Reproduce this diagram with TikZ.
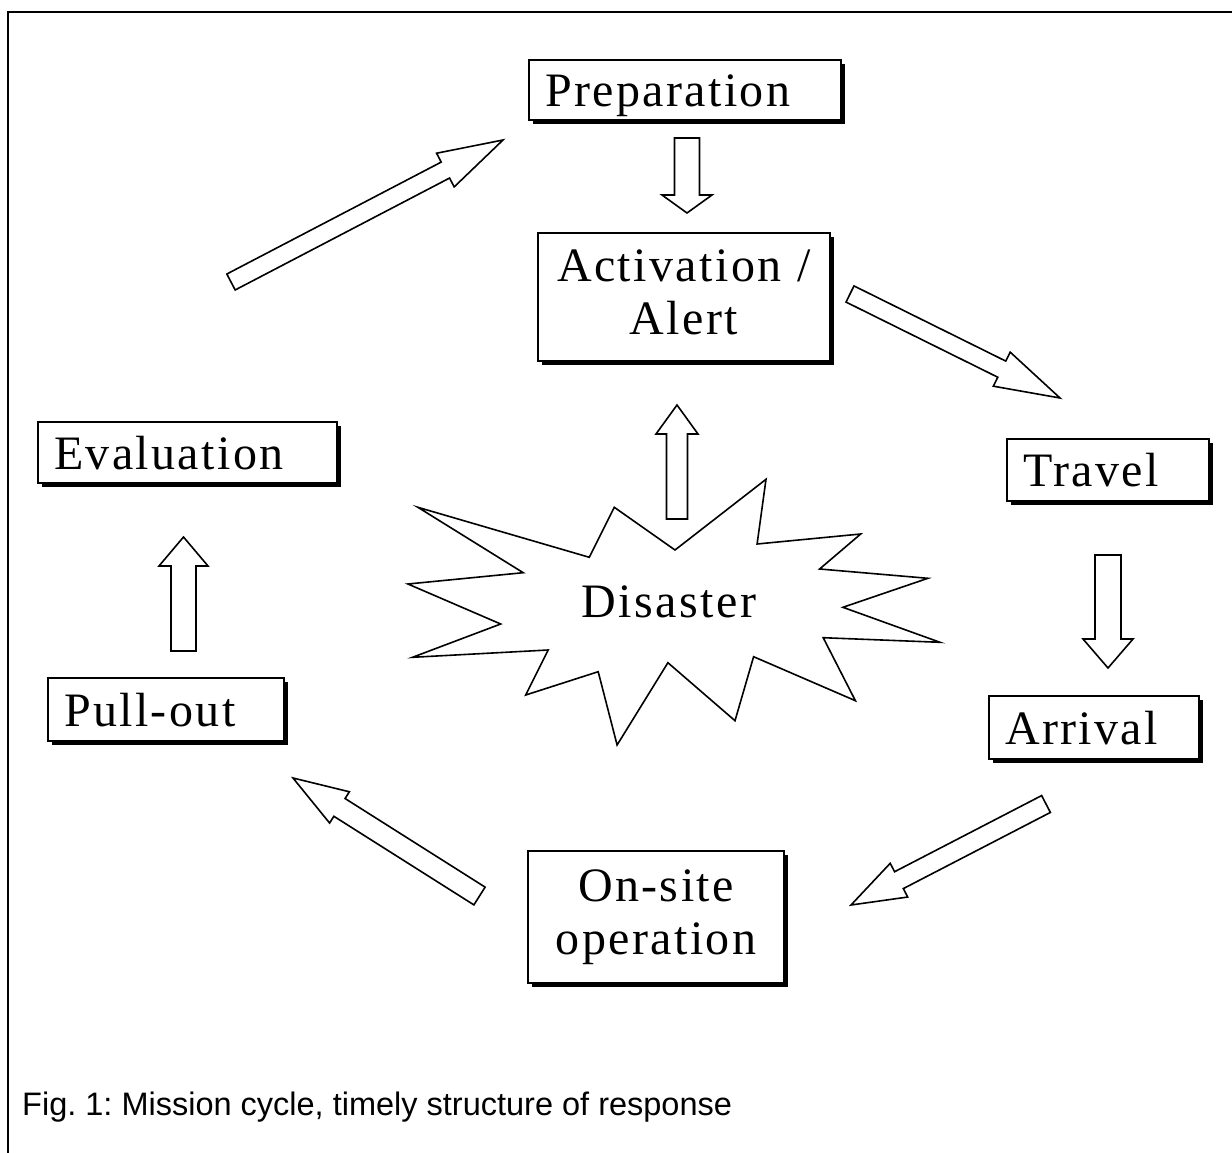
\documentclass[tikz,border=0pt]{standalone}
\usepackage{fontspec}
\setmainfont{Liberation Serif}[LetterSpace=5]
\newfontfamily\capfont{Liberation Sans}
\usepackage{tikz}
\usetikzlibrary{calc,shadows}
\frenchspacing
\def\blockarrow(#1)(#2)(#3:#4:#5){\coordinate (ba) at ($(#2)!#5!(#1)$);
	\draw[fatarrow] ($(#1)!#3!90:(#2)$) -- ($(ba)!#3!90:(#2)$) -- ($(ba)!#4!90:(#2)$) -- (#2) -- ($(ba)!#4!-90:(#2)$) -- ($(ba)!#3!-90:(#2)$) -- ($(#1)!#3!-90:(#2)$) -- cycle;}
\tikzset{
	phase/.style={draw, line width=2pt, fill=white, anchor=north west, inner xsep=16pt, inner ysep=0pt,
		drop shadow={shadow xshift=4pt, shadow yshift=-4pt, fill=black, opacity=1},
		font=\fontsize{48}{53}\selectfont},
	phaseone/.style={phase, align=left, text height=33pt, text depth=0pt},
	phasetwo/.style={phase, align=center},
	fatarrow/.style={line width=1.6pt, line join=miter, fill=white}
}

\begin{document}
\begin{tikzpicture}[x=1pt, y=-1pt]
		%%%%% START %%%%%
		\useasboundingbox (0,0) rectangle (1232,1153);
		\draw[line width=2pt] (1232,12.5) -- (7.5,12.5) -- (7.5,1153);
		
		\node[phaseone, text width=280pt, minimum height=60pt] (prep) at (528,59) {Preparation};
		\node[phasetwo, text width=260pt, minimum height=128pt] (act) at (537,232) {Activation /\\Alert\vphantom{p}};
		\node[phaseone, text width=170pt, minimum height=62pt] (travel) at (1006,438) {Travel};
		\node[phaseone, text width=178pt, minimum height=63pt] (arrival) at (988,695) {Arrival};
		\node[phasetwo, text width=224pt, minimum height=132pt] (onsite) at (527,850) {On-site\\operation};
		\node[phaseone, text width=204pt, minimum height=63pt] (pullout) at (47,677) {Pull-out};
		\node[phaseone, text width=267pt, minimum height=61pt] (eval) at (37,421) {Evaluation};
		
		% disaster star
		\draw[line width=1.6pt, line join=miter] (417.9,507.3) -- (589.3,557.3) -- (614.3,507.3) -- (675,550)
			-- (766,479.3) -- (757.1,544) -- (860.7,534) -- (819.6,569) -- (927.9,578.3) -- (842.9,607.3)
			-- (940,642.3) -- (823.2,637.7) -- (855.4,700.7) -- (753.6,656.7) -- (735,720.7) -- (667.9,662.7)
			-- (617.1,745) -- (598.2,671.7) -- (525.7,695) -- (548.2,650) -- (412.5,657.3) -- (500.7,624)
			-- (407.9,584) -- (523.2,572.7) -- cycle;
		\node[anchor=base, font=\fontsize{48}{53}\selectfont, inner sep=0pt] (disaster) at (669,617) {Disaster};
		
		% arrow ends
		\coordinate (eval-out) at (231,282);
		\coordinate (prep-in) at (503,140);
		\coordinate (prep-out) at (687,138);
		\coordinate (act-in) at (687,213);
		\coordinate (act-out) at (850,294);
		\coordinate (travel-in) at (1060,398);
		\coordinate (travel-out) at (1108,555);
		\coordinate (arrival-in) at (1108,668);
		\coordinate (arrival-out) at (1046,804);
		\coordinate (onsite-in) at (851,905);
		\coordinate (onsite-out) at (479.5,896);
		\coordinate (pullout-in) at (293,778);
		\coordinate (pullout-out) at (183.5,651);
		\coordinate (eval-in) at (183.5,537);
		\coordinate (disaster-out) at (677,519);
		\coordinate (act-up) at (677,405);
		
		\blockarrow(eval-out)(prep-in)(9pt:19pt:65pt)
		\blockarrow(prep-out)(act-in)(12.5pt:25pt:18pt)
		\blockarrow(act-out)(travel-in)(9pt:19pt:65pt)
		\blockarrow(travel-out)(arrival-in)(13pt:25pt:29pt)
		\blockarrow(arrival-out)(onsite-in)(9.5pt:19pt:54pt)
		\blockarrow(onsite-out)(pullout-in)(10.5pt:18.5pt:55pt)
		\blockarrow(pullout-out)(eval-in)(12.5pt:24.5pt:29pt)
		\blockarrow(disaster-out)(act-up)(10.5pt:21pt:29pt)
		
		\node[anchor=base west, inner sep=0pt, font=\capfont\fontsize{32.5}{36}\selectfont] (caption) at (22,1115) {Fig. 1: Mission cycle, timely structure of response};
		%%%%% END %%%%%
	\end{tikzpicture}
\end{document}
